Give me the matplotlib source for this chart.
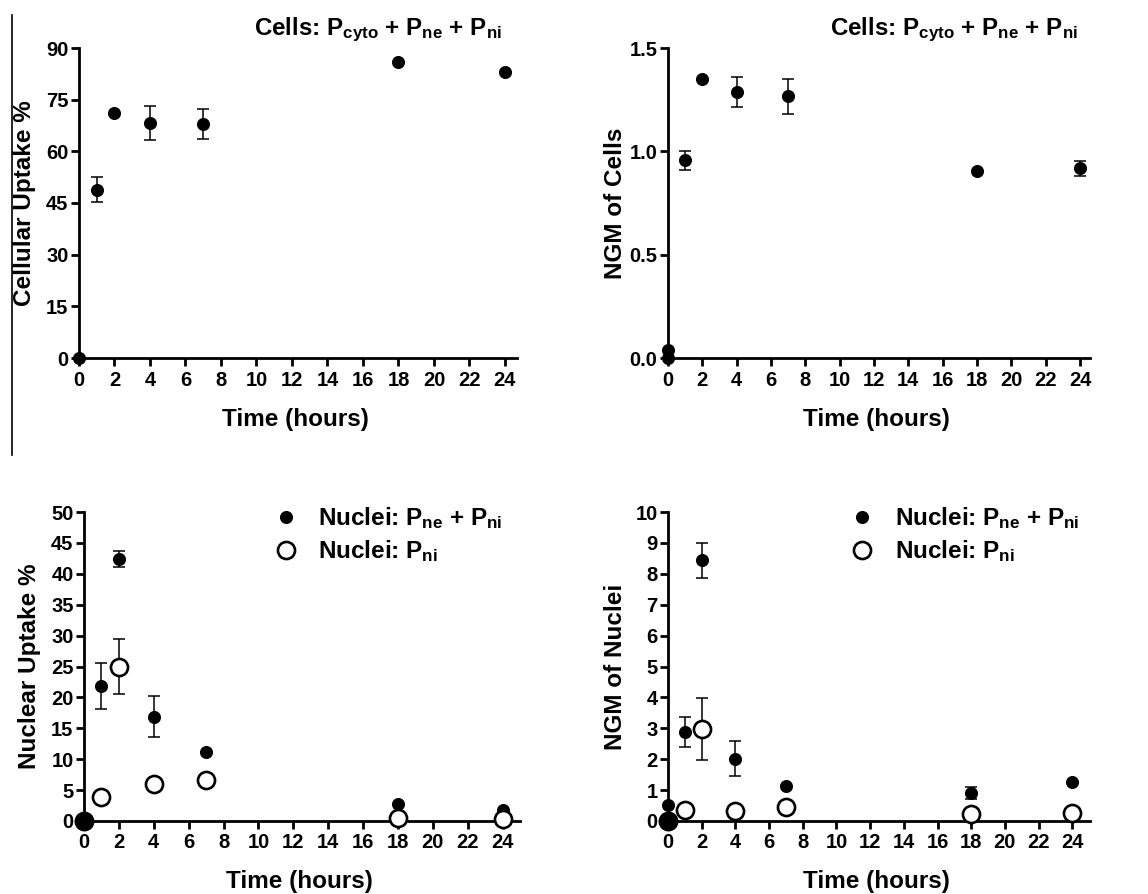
import matplotlib
matplotlib.use("Agg")
import matplotlib.pyplot as plt
from matplotlib.lines import Line2D
import numpy as np

plt.rcParams['font.family'] = ['Liberation Sans', 'DejaVu Sans']
plt.rcParams['font.weight'] = 'bold'
plt.rcParams['mathtext.fontset'] = 'custom'
plt.rcParams['mathtext.rm'] = 'Liberation Sans:bold'
plt.rcParams['mathtext.bf'] = 'Liberation Sans:bold'
plt.rcParams['mathtext.it'] = 'Liberation Sans:bold'

# ---------------- data ----------------
x_ticks = list(range(0, 25, 2))

# Panel A: cellular uptake %
cell_t = [0, 1, 2, 4, 7, 18, 24]
cell_up = [0, 48.9, 71.0, 68.3, 67.9, 85.9, 83.1]
cell_up_err = [0, 3.7, 0, 5.0, 4.3, 0, 0]

# Panel B: NGM of cells
ngm_cell_t = [0, 0, 1, 2, 4, 7, 18, 24]
ngm_cell = [0, 0.04, 0.956, 1.35, 1.287, 1.266, 0.905, 0.917]
ngm_cell_err = [0, 0, 0.048, 0, 0.074, 0.086, 0, 0.034]

# Panel C: nuclear uptake %
nuc_t = [0, 1, 2, 4, 7, 18, 24]
nuc_ne_ni = [0, 21.9, 42.4, 16.9, 11.1, 2.8, 1.7]
nuc_ne_ni_err = [0, 3.7, 1.35, 3.25, 0, 0, 0]
nuc_ni = [0, 3.9, 25.0, 6.05, 6.6, 0.5, 0.3]
nuc_ni_err = [0, 0, 4.45, 0, 0, 0, 0]

# Panel D: NGM of nuclei
ngm_nuc_t_full = [0, 0, 1, 2, 4, 7, 18, 24]
ngm_nuc_ne_ni = [0, 0.53, 2.88, 8.44, 2.02, 1.13, 0.91, 1.25]
ngm_nuc_ne_ni_err = [0, 0, 0.49, 0.57, 0.565, 0, 0.2, 0]
ngm_nuc_t = [0, 1, 2, 4, 7, 18, 24]
ngm_nuc_ni = [0, 0.35, 2.99, 0.32, 0.45, 0.24, 0.26]
ngm_nuc_ni_err = [0, 0, 1.0, 0, 0, 0, 0]

ylabels = ["Cellular Uptake %", "NGM of Cells", "Nuclear Uptake %", "NGM of Nuclei"]
xlabel = "Time (hours)"
cells_title = r"Cells: P$_{\mathrm{cyto}}$ + P$_{\mathrm{ne}}$ + P$_{\mathrm{ni}}$"
leg_ne_ni = r"Nuclei: P$_{\mathrm{ne}}$ + P$_{\mathrm{ni}}$"
leg_ni = r"Nuclei: P$_{\mathrm{ni}}$"

# ---------------- figure ----------------
W, H = 1148, 894
fig = plt.figure(figsize=(W / 100, H / 100), dpi=100)

def px_axes(left, top, right, bottom):
    return fig.add_axes([left / W, 1 - bottom / H, (right - left) / W, (bottom - top) / H])

axA = px_axes(79, 48, 517, 358)
axB = px_axes(668, 48, 1090, 358)
axC = px_axes(84, 512, 520, 821)
axD = px_axes(668, 512, 1090, 821)

FMS = 8.4
OMS = 12.3
ERR = dict(fmt='none', ecolor='black', elinewidth=1.1, capsize=4.3,
           capthick=1.1, clip_on=False)

def filled(ax, t, y, e, z=3):
    t = np.asarray(t, float); y = np.asarray(y, float); e = np.asarray(e, float)
    m = e > 0
    ax.errorbar(t[m], y[m], yerr=e[m], zorder=z - 0.5, **ERR)
    ax.plot(t, y, 'o', color='black', ms=FMS, ls='none', clip_on=False, zorder=z)

def hollow(ax, t, y, e, z=4):
    t = np.asarray(t, float); y = np.asarray(y, float); e = np.asarray(e, float)
    m = e > 0
    ax.errorbar(t[m], y[m], yerr=e[m], zorder=z - 0.5, **ERR)
    ax.plot(t, y, 'o', mfc='white', mec='black', ms=OMS, mew=1.9, ls='none',
            clip_on=False, zorder=z)

def style(ax, ymax, yticks, yticklabels, xmax, ylabel, ylab_x):
    ax.set_xlim(0, xmax)
    ax.set_ylim(0, ymax)
    for s in ['top', 'right']:
        ax.spines[s].set_visible(False)
    for s in ['left', 'bottom']:
        ax.spines[s].set_linewidth(2.0)
    ax.set_xticks(x_ticks)
    ax.set_yticks(yticks)
    ax.set_yticklabels(yticklabels)
    ax.tick_params(axis='both', direction='out', width=2.0, length=6,
                   labelsize=14.5)
    ax.tick_params(axis='x', pad=3)
    ax.tick_params(axis='y', pad=1.5)
    for lab in ax.get_xticklabels() + ax.get_yticklabels():
        lab.set_fontweight('bold')
    ax.set_xlabel(xlabel, fontsize=17.5, fontweight='bold')
    ax.set_ylabel(ylabel, fontsize=17.5, fontweight='bold')
    ax.xaxis.set_label_coords(0.495, -0.16)
    ax.yaxis.set_label_coords(ylab_x, 0.5)

# Panel A
filled(axA, cell_t, cell_up, cell_up_err)
style(axA, 90, list(range(0, 91, 15)), [str(v) for v in range(0, 91, 15)],
      24.68, ylabels[0], -0.099)

# Panel B
filled(axB, ngm_cell_t, ngm_cell, ngm_cell_err)
style(axB, 1.5, [0, 0.5, 1.0, 1.5], ["0.0", "0.5", "1.0", "1.5"],
      24.58, ylabels[1], -0.098)

# Panel C
filled(axC, nuc_t, nuc_ne_ni, nuc_ne_ni_err)
hollow(axC, nuc_t, nuc_ni, nuc_ni_err)
axC.plot(nuc_t[:1], nuc_ne_ni[:1], 'o', color='black', ms=13, clip_on=False, zorder=5)
style(axC, 50, list(range(0, 51, 5)), [str(v) for v in range(0, 51, 5)],
      25.0, ylabels[2], -0.098)

# Panel D
filled(axD, ngm_nuc_t_full, ngm_nuc_ne_ni, ngm_nuc_ne_ni_err)
hollow(axD, ngm_nuc_t, ngm_nuc_ni, ngm_nuc_ni_err)
axD.plot(ngm_nuc_t_full[:1], ngm_nuc_ne_ni[:1], 'o', color='black', ms=13, clip_on=False, zorder=5)
style(axD, 10, list(range(0, 11)), [str(v) for v in range(0, 11)],
      25.05, ylabels[3], -0.098)

# Legends
for ax, anchor in [(axC, (0.412, 1.053)), (axD, (0.409, 1.053))]:
    handles = [Line2D([], [], marker='o', ls='none', color='black', ms=FMS),
               Line2D([], [], marker='o', ls='none', mfc='white', mec='black', ms=OMS, mew=1.9)]
    ax.legend(handles, [leg_ne_ni, leg_ni], loc='upper left', bbox_to_anchor=anchor,
              frameon=False, handlelength=1.0, handletextpad=0.85,
              labelspacing=0.3, borderaxespad=0,
              prop={'weight': 'bold', 'size': 17.5})

# Titles of upper panels
fig.text(502 / W, 1 - 35 / H, cells_title, ha='right', va='baseline',
         fontsize=17.4, fontweight='bold')
fig.text(1078 / W, 1 - 35 / H, cells_title, ha='right', va='baseline',
         fontsize=17.4, fontweight='bold')

# thin left border line from the source image
fig.add_artist(Line2D([12.3 / W, 12.3 / W], [1 - 15 / H, 1 - 455 / H],
                      transform=fig.transFigure, color='black', lw=1.2))

fig.savefig("out.png", dpi=100)
